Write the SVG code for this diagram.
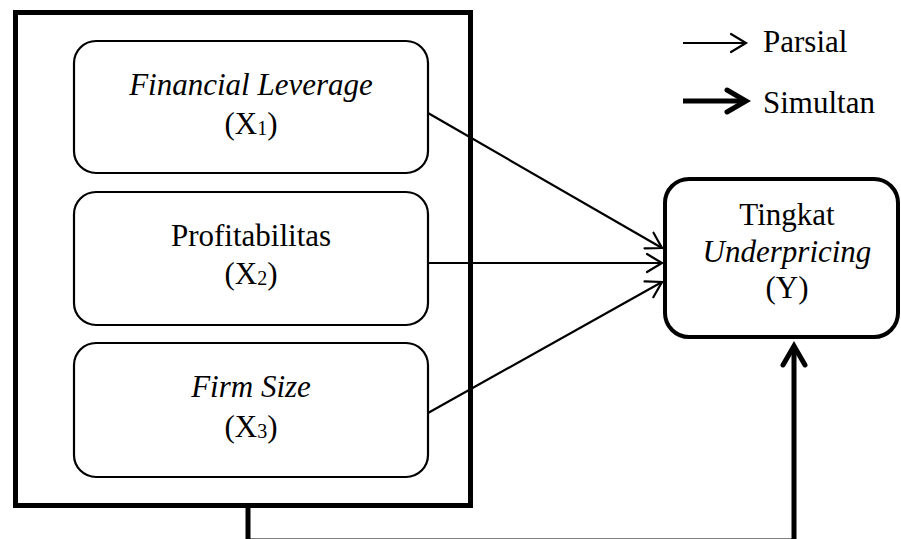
<svg xmlns="http://www.w3.org/2000/svg" width="901" height="539" viewBox="0 0 901 539">
<style>
text{font-family:"Liberation Serif","Times New Roman",serif;font-size:31px;fill:#000;text-anchor:middle}
.it{font-style:italic}
.sub{font-size:20px}
.node{fill:#fff;stroke:#000;stroke-width:2.2}
.thin{fill:none;stroke:#000;stroke-width:2.2}
.thick{fill:none;stroke:#000;stroke-width:5}
</style>
<defs>
<marker id="ah" markerUnits="userSpaceOnUse" viewBox="-17 -11 19 22" refX="0" refY="0" markerWidth="19" markerHeight="22" orient="auto" overflow="visible">
<path d="M-15,-9 L0,0 L-15,9" fill="none" stroke="#000" stroke-width="2.2" stroke-linecap="round"/>
</marker>
<marker id="ahT" markerUnits="userSpaceOnUse" viewBox="-22 -15 26 30" refX="0" refY="0" markerWidth="26" markerHeight="30" orient="auto" overflow="visible">
<path d="M-19,-11 L0,0 L-19,11" fill="none" stroke="#000" stroke-width="5" stroke-linecap="round" stroke-linejoin="miter"/>
</marker>
</defs>
<g id="group">
<rect x="15.5" y="12.5" width="455" height="493" fill="none" stroke="#000" stroke-width="5"/>
</g>
<g id="x1">
<rect class="node" x="74" y="41" width="354" height="132" rx="22"/>
<text x="251" y="95" class="it">Financial Leverage</text>
<text x="251" y="134">(X<tspan class="sub" dy="1">1</tspan><tspan dy="-1">)</tspan></text>
</g>
<g id="x2">
<rect class="node" x="74" y="192" width="354" height="133" rx="22"/>
<text x="251" y="246">Profitabilitas</text>
<text x="251" y="284">(X<tspan class="sub" dy="1">2</tspan><tspan dy="-1">)</tspan></text>
</g>
<g id="x3">
<rect class="node" x="74" y="343" width="354" height="134" rx="22"/>
<text x="251" y="397" class="it">Firm Size</text>
<text x="251" y="437">(X<tspan class="sub" dy="1">3</tspan><tspan dy="-1">)</tspan></text>
</g>
<g id="y">
<rect x="665" y="179" width="233" height="158" rx="24" fill="#fff" stroke="#000" stroke-width="4"/>
<text x="787" y="225">Tingkat</text>
<text x="787" y="262" class="it">Underpricing</text>
<text x="787" y="298">(Y)</text>
</g>
<g id="connectors">
<line class="thin" x1="428" y1="113" x2="662" y2="248" marker-end="url(#ah)"/>
<line class="thin" x1="428" y1="263" x2="662" y2="263" marker-end="url(#ah)"/>
<line class="thin" x1="428" y1="413" x2="662" y2="282" marker-end="url(#ah)"/>
<path class="thick" d="M248,505 L248,541 L794,541 L794,346" marker-end="url(#ahT)"/>
</g>
<g id="legend">
<line class="thin" x1="683" y1="43" x2="746" y2="43" marker-end="url(#ah)"/>
<text x="763" y="52" style="text-anchor:start">Parsial</text>
<line class="thick" x1="683" y1="101" x2="746" y2="101" marker-end="url(#ahT)"/>
<text x="763" y="113" style="text-anchor:start">Simultan</text>
</g>
</svg>
